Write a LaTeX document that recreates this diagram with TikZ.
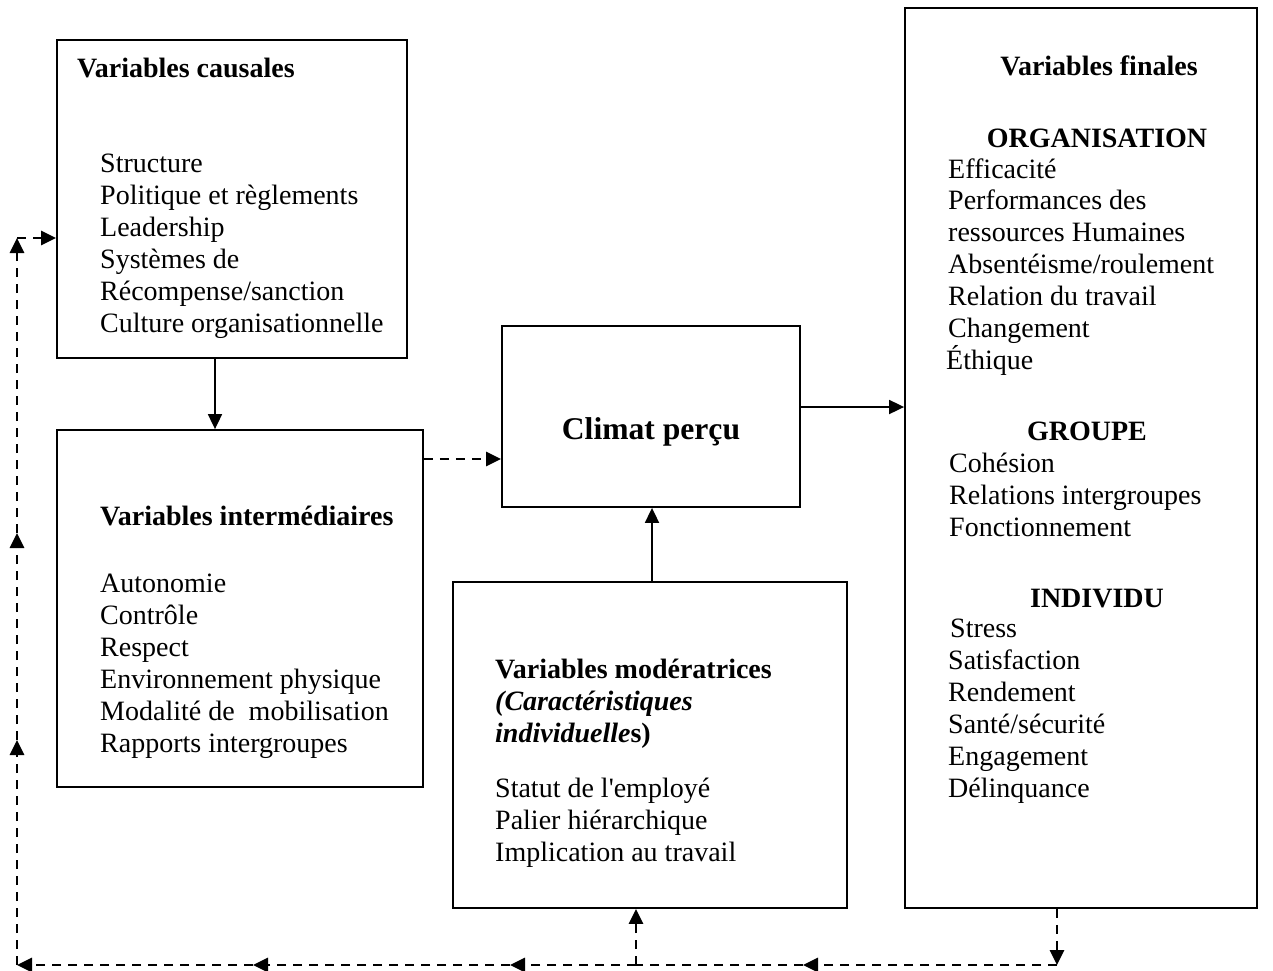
\documentclass[tikz,border=0pt]{standalone}
\usepackage{fontspec}
\setmainfont{Liberation Serif}[Ligatures=TeXOff]
\usetikzlibrary{arrows.meta}
\begin{document}
\begin{tikzpicture}[x=1pt,y=-1pt,
  box/.style={draw, line width=1.8pt, inner sep=0pt, rectangle},
  txt/.style={inner sep=0pt, anchor=base west, font=\fontsize{28}{32}\selectfont},
  ttl/.style={txt, font=\fontsize{28}{32}\selectfont\bfseries},
  ctr/.style={ttl, anchor=base},
  solidarrow/.style={line width=1.8pt, -{Triangle[length=15pt,width=14pt]}},
  dasharrow/.style={line width=2.9pt, dash pattern=on 9pt off 7pt, -{Triangle[length=15pt,width=14pt]}},
  dashline/.style={line width=2.9pt, dash pattern=on 9pt off 7pt}]
\useasboundingbox (0,0) rectangle (1273,970);

% boxes
\node[box, minimum width=350pt, minimum height=318pt] (caus) at (232,199) {};
\node[box, minimum width=366pt, minimum height=357pt] (inter) at (240,608.5) {};
\node[box, minimum width=298pt, minimum height=181pt] (clim) at (651,416.5) {};
\node[box, minimum width=394pt, minimum height=326pt] (mod) at (650,745) {};
\node[box, minimum width=352pt, minimum height=900pt] (fin) at (1081,458) {};

% causal variables
\node[ttl] (caust) at (77,77) {Variables causales};
\foreach \t [count=\i] in {Structure, Politique et règlements, Leadership,
  Systèmes de, Récompense/sanction, Culture organisationnelle}
  \node[txt] (causl\i) at (100,{172+32*(\i-1)}) {\t};

% intermediate variables
\node[ttl] (intert) at (100,525) {Variables intermédiaires};
\foreach \t [count=\i] in {Autonomie, Contrôle, Respect, Environnement physique,
  Modalité de\ \ mobilisation, Rapports intergroupes}
  \node[txt] (interl\i) at (100,{592+32*(\i-1)}) {\t};

% perceived climate
\node[inner sep=0pt, anchor=base, font=\fontsize{31.6}{36}\selectfont\bfseries] (climt) at (651,439) {Climat perçu};

% moderating variables
\node[ttl] (modt) at (495,678) {Variables modératrices};
\node[ttl] (modt2) at (495,710) {\itshape(Caractéristiques};
\node[ttl] (modt3) at (495,742) {\textit{individuelle}s)};
\foreach \t [count=\i] in {Statut de l'employé, Palier hiérarchique, Implication au travail}
  \node[txt] (modl\i) at (495,{797+32*(\i-1)}) {\t};

% final variables
\node[ctr] (fint) at (1099,75) {Variables finales};
\node[ctr] (orgt) at (1097,147) {ORGANISATION};
\foreach \t [count=\i] in {Efficacité, Performances des, ressources Humaines,
  Absentéisme/roulement, Relation du travail, Changement}
  \node[txt] (orgl\i) at (948,{178+31.8*(\i-1)}) {\t};
\node[txt] (orgl7) at (946,369) {Éthique};
\node[ctr] (grpt) at (1087,440) {GROUPE};
\foreach \t [count=\i] in {Cohésion, Relations intergroupes, Fonctionnement}
  \node[txt] (grpl\i) at (949,{472+32*(\i-1)}) {\t};
\node[ctr] (indt) at (1097,607) {INDIVIDU};
\node[txt] (indl1) at (950,637) {Stress};
\foreach \t [count=\i] in {Satisfaction, Rendement, Santé/sécurité, Engagement, Délinquance}
  \node[txt] (indl\i) at (948,{669+32*(\i-1)}) {\t};

% solid connectors
\draw[solidarrow] (caus.south -| 215,0) -- (inter.north -| 215,0);
\draw[solidarrow] (mod.north -| 652,0) -- (clim.south -| 652,0);
\draw[solidarrow] (clim.east |- 0,407) -- (fin.west |- 0,407);
\draw[dasharrow] (inter.east |- 0,459) -- (clim.west |- 0,459);

% feedback loop
\coordinate (fb) at (1057,965);
\coordinate (h1) at (803,965);
\coordinate (h2) at (636,965);
\coordinate (h3) at (510,965);
\coordinate (h4) at (253,965);
\coordinate (lc) at (17,965);
\coordinate (v1) at (17,740);
\coordinate (v2) at (17,533);
\coordinate (tc) at (17,238);
\draw[dasharrow] (fin.south -| fb) -- (fb);
\draw[dasharrow] (fb) -- (h1);
\draw[dashline] (h1) -- (h2);
\draw[dasharrow] (h2) -- (h3);
\draw[dasharrow] (h3) -- (h4);
\draw[dasharrow] (h4) -- (lc);
\draw[dasharrow] (h2) -- (mod.south -| h2);
\draw[dasharrow] (lc) -- (v1);
\draw[dasharrow] (v1) -- (v2);
\draw[dasharrow] (v2) -- (tc);
\draw[dasharrow] (tc) -- (caus.west |- tc);
\end{tikzpicture}
\end{document}
